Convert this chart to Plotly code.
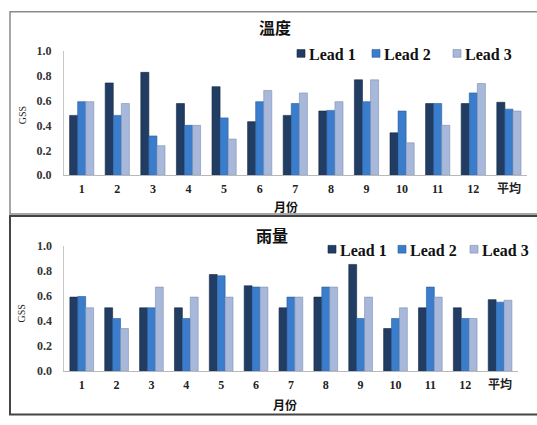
import plotly.graph_objects as go

months = ["1", "2", "3", "4", "5", "6", "7", "8", "9", "10", "11", "12", "平均"]
series_names = ["Lead 1", "Lead 2", "Lead 3"]

temp_lead1 = [0.48, 0.74, 0.825, 0.575, 0.71, 0.43, 0.48, 0.515, 0.765, 0.34, 0.575, 0.575, 0.585]
temp_lead2 = [0.59, 0.48, 0.315, 0.40, 0.46, 0.59, 0.575, 0.52, 0.59, 0.515, 0.575, 0.66, 0.53]
temp_lead3 = [0.59, 0.575, 0.237, 0.40, 0.29, 0.68, 0.66, 0.59, 0.765, 0.26, 0.40, 0.735, 0.515]

rain_lead1 = [0.59, 0.505, 0.505, 0.505, 0.77, 0.68, 0.505, 0.59, 0.85, 0.34, 0.505, 0.505, 0.57]
rain_lead2 = [0.595, 0.42, 0.505, 0.42, 0.76, 0.67, 0.59, 0.67, 0.42, 0.42, 0.67, 0.42, 0.55]
rain_lead3 = [0.505, 0.34, 0.67, 0.59, 0.59, 0.67, 0.59, 0.67, 0.59, 0.505, 0.59, 0.42, 0.565]

colors = ["#223d63", "#3b7dcd", "#a8b8da"]
edge = ["#15263f", "#2a5a95", "#7f8fb0"]

SERIF = "Liberation Serif, Noto Sans CJK TC, serif"
CJK = "Noto Sans CJK TC, sans-serif"

W, H = 537, 425


def px_x(x):
    return x / W


def px_y(y):
    return 1 - y / H


fig = go.Figure()

for i, (name, vals) in enumerate(zip(series_names, [temp_lead1, temp_lead2, temp_lead3])):
    fig.add_trace(go.Bar(x=months, y=vals, name=name, xaxis="x", yaxis="y", showlegend=False,
                         marker=dict(color=colors[i], line=dict(color=edge[i], width=0.6))))
for i, (name, vals) in enumerate(zip(series_names, [rain_lead1, rain_lead2, rain_lead3])):
    fig.add_trace(go.Bar(x=months, y=vals, name=name, xaxis="x2", yaxis="y2", showlegend=False,
                         marker=dict(color=colors[i], line=dict(color=edge[i], width=0.6))))

xcommon = dict(type="category", showline=True, linecolor="#b8b8b8", linewidth=1,
               showgrid=False, ticks="", zeroline=False,
               tickfont=dict(family=SERIF, size=12, color="#222", weight="bold"),
               ticklabelstandoff=2)
ycommon = dict(range=[0, 1], dtick=0.2, tickformat=".1f", showline=True, linecolor="#c8c8c8",
               linewidth=1, showgrid=False, zeroline=False, ticks="",
               tickfont=dict(family=SERIF, size=12, color="#333", weight="bold"),
               ticklabelstandoff=9)

fig.update_layout(
    width=W, height=H,
    margin=dict(l=0, r=0, t=0, b=0),
    paper_bgcolor="white", plot_bgcolor="white",
    barmode="group", bargap=0.32, bargroupgap=0.0,
    xaxis=dict(domain=[px_x(63.9), px_x(526.7)], anchor="y", **xcommon),
    yaxis=dict(domain=[px_y(174), px_y(45)], anchor="x", **ycommon),
    xaxis2=dict(domain=[px_x(64.3), px_x(517.5)], anchor="y2", **xcommon),
    yaxis2=dict(domain=[px_y(376.7), px_y(246.7)], anchor="x2", **ycommon),
    showlegend=False,
)

annots = [
    dict(text="<b>溫度</b>", x=px_x(275), y=px_y(20.5), font=dict(family=CJK, size=16, color="#111")),
    dict(text="<b>雨量</b>", x=px_x(272), y=px_y(236), font=dict(family=CJK, size=16, color="#111")),
    dict(text="<b>月份</b>", x=px_x(286), y=px_y(206), font=dict(family=CJK, size=12, color="#111")),
    dict(text="<b>月份</b>", x=px_x(285), y=px_y(411), font=dict(family=CJK, size=12, color="#111")),
    dict(text="GSS", x=px_x(22), y=px_y(112), textangle=-90, font=dict(family=SERIF, size=10, color="#222")),
    dict(text="GSS", x=px_x(22), y=px_y(317), textangle=-90, font=dict(family=SERIF, size=10, color="#222")),
]
for a in annots:
    a.update(xanchor="center")

shapes = [
    dict(type="rect", x0=px_x(10), x1=px_x(545), y0=px_y(5), y1=px_y(214),
         line=dict(color="#8a8a8a", width=1.5), layer="below"),
    dict(type="rect", x0=px_x(10), x1=px_x(545), y0=px_y(216), y1=px_y(421.5),
         line=dict(color="#444", width=2), layer="below"),
]

# legend entries (square + label) for each panel
legend_top_sq = [297, 372, 453]
legend_top_tx = [307, 382, 463]
legend_bot_sq = [328, 398, 470]
legend_bot_tx = [338, 408, 480]
for (sqs, txs, yc) in [(legend_top_sq, legend_top_tx, 48), (legend_bot_sq, legend_bot_tx, 250.5)]:
    for i, name in enumerate(series_names):
        shapes.append(dict(type="rect", x0=px_x(sqs[i]), x1=px_x(sqs[i] + 8),
                           y0=px_y(yc + 4), y1=px_y(yc - 4),
                           fillcolor=colors[i], line=dict(color=edge[i], width=0.6)))
        annots.append(dict(text="<b>" + name + "</b>", x=px_x(txs[i]), y=px_y(yc + 1), xanchor="left",
                           font=dict(family=SERIF, size=16, color="#111")))

for a in annots:
    a.update(xref="paper", yref="paper", showarrow=False, yanchor="middle")
for s in shapes:
    s.update(xref="paper", yref="paper")
fig.update_layout(annotations=annots, shapes=shapes)

fig.write_html("out.html", config={"displayModeBar": False},
               post_script="document.body.style.margin='0px';")
